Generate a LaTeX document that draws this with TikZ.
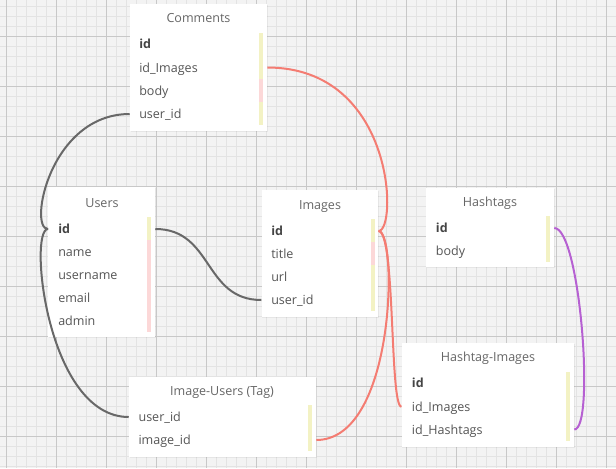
\documentclass[tikz,border=0pt]{standalone}
\usepackage{fontspec}
\setmainfont{Open Sans}
\usepackage{tikz}
\usetikzlibrary{fit, shadows}
\definecolor{GridBack}{HTML}{F3F3F3}
\definecolor{GridMinor}{HTML}{E3E3E3}
\definecolor{GridMajor}{HTML}{C8C8C8}
\definecolor{FieldText}{HTML}{555555}
\definecolor{TitleText}{HTML}{666666}
\definecolor{KeyYellow}{HTML}{F3F2C4}
\definecolor{KeyPink}{HTML}{FCD8D8}
\definecolor{LinkGray}{HTML}{686868}
\definecolor{LinkRed}{HTML}{F47C72}
\definecolor{LinkPurple}{HTML}{B660D2}

\begin{document}
\begin{tikzpicture}[x=0.75pt, y=-0.75pt,
  tablebox/.style={rectangle, fill=white, inner sep=0pt,
    drop shadow={shadow xshift=0.5pt, shadow yshift=-0.7pt, opacity=0.12}},
  tabletitle/.style={inner sep=0pt, text=TitleText, text height=9pt, text depth=2pt,
    font=\fontsize{9.4}{11}\selectfont},
  field/.style={anchor=west, inner sep=0pt, text=FieldText, text height=9pt,
    text depth=2pt, font=\fontsize{9.4}{11}\selectfont},
  keyfield/.style={field, font=\fontsize{9.4}{11}\selectfont\bfseries, text=FieldText!80!black},
  ybar/.style={fill=KeyYellow},
  pbar/.style={fill=KeyPink},
  graylink/.style={draw=LinkGray, line width=1.5pt},
  redlink/.style={draw=LinkRed, line width=1.5pt},
  purplelink/.style={draw=LinkPurple, line width=1.5pt}
]

\useasboundingbox (0,0) rectangle (616,468);
\fill[GridBack] (0,0) rectangle (616,468);
\foreach \i in {0,...,61}
  \draw[GridMinor, line width=0.75pt] ({6.7+10*\i},0) -- ({6.7+10*\i},468);
\foreach \j in {0,...,46}
  \draw[GridMinor, line width=0.75pt] (0,{6+10*\j}) -- (616,{6+10*\j});
\foreach \i in {0,...,12}
  \draw[GridMajor, line width=0.75pt] ({6.7+50*\i},0) -- ({6.7+50*\i},468);
\foreach \j in {0,...,8}
  \draw[GridMajor, line width=0.75pt] (0,{36+50*\j}) -- (616,{36+50*\j});

% tables
\node[tablebox, fit={(130,4) (267,131)}] (comments) {};
\node[tabletitle] (com-title) at (198.5,18) {Comments};
\fill[ybar] (258.5,33) rectangle (262.5,79);
\fill[pbar] (258.5,79) rectangle (262.5,102);
\fill[ybar] (258.5,102) rectangle (262.5,125);
\node[keyfield] (com-id) at (139,44) {id};
\node[field] (com-idimg) at (139,67.5) {id\_Images};
\node[field] (com-body) at (139,91) {body};
\node[field] (com-uid) at (139,114) {user\_id};

\node[tablebox, fit={(48.3,187) (155,337)}] (users) {};
\node[tabletitle] (usr-title) at (102,203) {Users};
\fill[ybar] (147.3,217) rectangle (151.3,240);
\fill[pbar] (147.3,240) rectangle (151.3,332);
\node[keyfield] (usr-id) at (58,229) {id};
\node[field] (usr-name) at (58,252) {name};
\node[field] (usr-uname) at (58,275) {username};
\node[field] (usr-email) at (58,298) {email};
\node[field] (usr-admin) at (58,321) {admin};

\node[tablebox, fit={(261.7,190) (378.3,317)}] (images) {};
\node[tabletitle] (img-title) at (320,205) {Images};
\fill[ybar] (371,219) rectangle (375,242);
\fill[pbar] (371,242) rectangle (375,265);
\fill[ybar] (371,265) rectangle (375,311);
\node[keyfield] (img-id) at (271,231) {id};
\node[field] (img-title) at (271,254) {title};
\node[field] (img-url) at (271,277) {url};
\node[field] (img-uid) at (271,300) {user\_id};

\node[tablebox, fit={(426,188) (554,267)}] (hashtags) {};
\node[tabletitle] (hash-title) at (490,202) {Hashtags};
\fill[ybar] (546,216) rectangle (550,262);
\node[keyfield] (hash-id) at (435.7,228) {id};
\node[field] (hash-body) at (435.7,251) {body};

\node[tablebox, fit={(129,377) (316,457)}] (imgusers) {};
\node[tabletitle] (iu-title) at (222,391) {Image-Users (Tag)};
\fill[ybar] (308.3,405) rectangle (312.3,451);
\node[field] (iu-uid) at (138.3,417) {user\_id};
\node[field] (iu-imgid) at (138.3,440) {image\_id};

\node[tablebox, fit={(401.7,343.3) (574,446.7)}] (hashimg) {};
\node[tabletitle] (hi-title) at (488,357) {Hashtag-Images};
\fill[ybar] (566,372) rectangle (570,441);
\node[keyfield] (hi-id) at (411.7,383.3) {id};
\node[field] (hi-idimg) at (411.7,406.7) {id\_Images};
\node[field] (hi-idhash) at (411.7,429.5) {id\_Hashtags};

% relations
\draw[graylink] (comments.west |- com-uid) .. controls +(-80,0) and +(-20,0) .. (users.west |- usr-id);
\draw[graylink] (users.west |- usr-id) .. controls +(-20,0) and +(-82,0) .. (imgusers.west |- iu-uid);
\draw[graylink] (users.east |- usr-id) .. controls +(58,0) and +(-58,0) .. (images.west |- img-uid);
\draw[redlink] (comments.east |- com-idimg) .. controls +(128,0) and +(19,0) .. (images.east |- img-id);
\draw[redlink] (images.east |- img-id) .. controls +(19,0) and +(80,0) .. (imgusers.east |- iu-imgid);
\draw[redlink] (images.east |- img-id) .. controls +(17,0) and +(-12,0) .. (hashimg.west |- hi-idimg);
\draw[purplelink] (hashtags.east |- hash-id) .. controls +(26,0) and +(21,0) .. (hashimg.east |- hi-idhash);

\end{tikzpicture}
\end{document}
